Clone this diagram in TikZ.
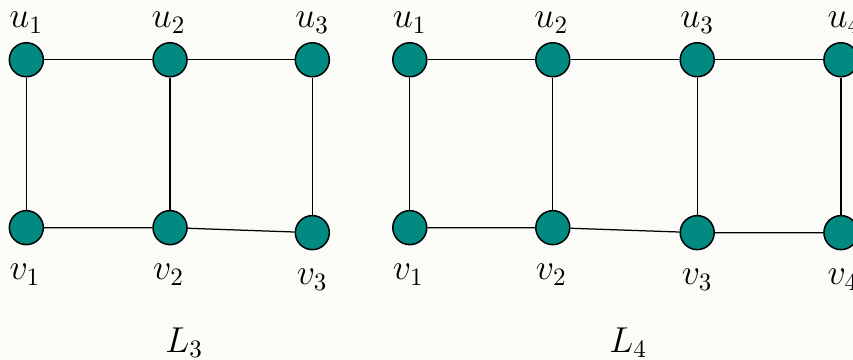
\documentclass[tikz,border=0pt]{standalone}
\usepackage{amsmath}
\usepackage{tikz}
\usepackage{xcolor}

\definecolor{vertexteal}{RGB}{0,138,130}
\definecolor{paperbg}{RGB}{251,252,248}

\tikzset{
    vertex/.style={circle, draw=black, fill=vertexteal, line width=0.6pt, minimum size=13.6pt, inner sep=0pt},
    edge/.style={black, line width=0.5pt},
    vlabel/.style={inner sep=0pt, font=\Large}
}

\begin{document}
\begin{tikzpicture}
        \fill[paperbg] (0, 0) rectangle (11.99, 5.06);
        \useasboundingbox (0, 0) rectangle (11.99, 5.06);
        % L3
        \node[vertex] (au1) at (0.37, 4.22) {};
        \node[vertex] (au2) at (2.39, 4.22) {};
        \node[vertex] (au3) at (4.39, 4.22) {};
        \node[vertex] (av1) at (0.37, 1.86) {};
        \node[vertex] (av2) at (2.39, 1.86) {};
        \node[vertex] (av3) at (4.39, 1.79) {};
        \draw[edge] (au1) -- (au2) -- (au3);
        \draw[edge] (av1) -- (av2) -- (av3);
        \draw[edge] (au1) -- (av1);
        \draw[edge] (au2) -- (av2);
        \draw[edge] (au3) -- (av3);
        \node[vlabel] (lau1) at (0.37, 4.74) {$u_1$};
        \node[vlabel] (lau2) at (2.37, 4.74) {$u_2$};
        \node[vlabel] (lau3) at (4.39, 4.74) {$u_3$};
        \node[vlabel] (lav1) at (0.35, 1.20) {$v_1$};
        \node[vlabel] (lav2) at (2.37, 1.20) {$v_2$};
        \node[vlabel] (lav3) at (4.39, 1.13) {$v_3$};
        \node[vlabel] (nameL3) at (2.59, 0.24) {$L_3$};
        % L4
        \node[vertex] (bu1) at (5.76, 4.22) {};
        \node[vertex] (bu2) at (7.77, 4.22) {};
        \node[vertex] (bu3) at (9.80, 4.22) {};
        \node[vertex] (bu4) at (11.82, 4.22) {};
        \node[vertex] (bv1) at (5.76, 1.86) {};
        \node[vertex] (bv2) at (7.77, 1.86) {};
        \node[vertex] (bv3) at (9.80, 1.79) {};
        \node[vertex] (bv4) at (11.82, 1.79) {};
        \draw[edge] (bu1) -- (bu2) -- (bu3) -- (bu4);
        \draw[edge] (bv1) -- (bv2) -- (bv3) -- (bv4);
        \draw[edge] (bu1) -- (bv1);
        \draw[edge] (bu2) -- (bv2);
        \draw[edge] (bu3) -- (bv3);
        \draw[edge] (bu4) -- (bv4);
        \node[vlabel] (lbu1) at (5.76, 4.74) {$u_1$};
        \node[vlabel] (lbu2) at (7.75, 4.74) {$u_2$};
        \node[vlabel] (lbu3) at (9.80, 4.74) {$u_3$};
        \node[vlabel] (lbu4) at (11.87, 4.74) {$u_4$};
        \node[vlabel] (lbv1) at (5.74, 1.20) {$v_1$};
        \node[vlabel] (lbv2) at (7.75, 1.20) {$v_2$};
        \node[vlabel] (lbv3) at (9.80, 1.13) {$v_3$};
        \node[vlabel] (lbv4) at (11.85, 1.13) {$v_4$};
        \node[vlabel] (nameL4) at (8.83, 0.24) {$L_4$};
    \end{tikzpicture}
\end{document}
